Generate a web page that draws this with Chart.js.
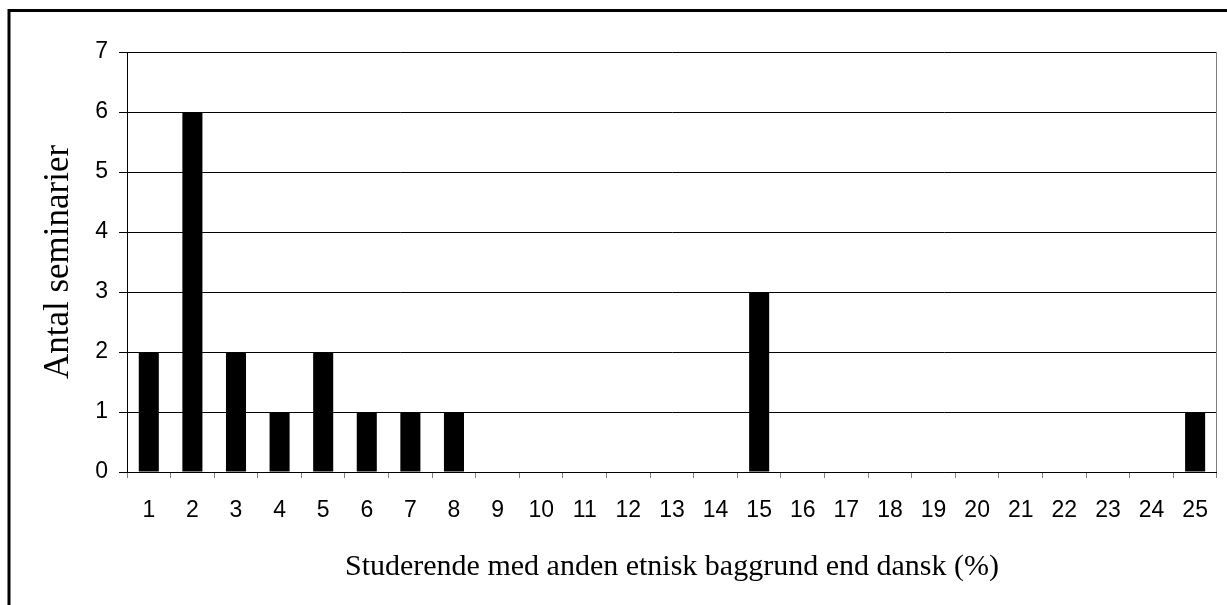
<!DOCTYPE html>
<html>
<head>
<meta charset="utf-8">
<script src="https://cdn.jsdelivr.net/npm/chart.js@4"></script>
<style>
  body { margin: 0; background: #fff; }
</style>
</head>
<body>
<canvas id="grafico" width="1227" height="605"></canvas>
<script>
// Kategorier og værdier
const kategorier = ['1','2','3','4','5','6','7','8','9','10','11','12','13','14','15','16','17','18','19','20','21','22','23','24','25'];
const antal = [2, 6, 2, 1, 2, 1, 1, 1, 0, 0, 0, 0, 0, 0, 3, 0, 0, 0, 0, 0, 0, 0, 0, 0, 1];
const yTicks = [0, 1, 2, 3, 4, 5, 6, 7];

// ramme rundt om hele figuren + højre kant af plotområdet
const ramme = {
    id: 'ramme',
    beforeDraw(chart) {
        const ctx = chart.ctx;
        ctx.save();
        ctx.fillStyle = '#fff';
        ctx.fillRect(0, 0, chart.width, chart.height);
        ctx.strokeStyle = '#000';
        ctx.lineWidth = 3;
        ctx.strokeRect(9, 10.5, 1400, 800);
        ctx.restore();
    },
    afterDraw(chart) {
        const a = chart.chartArea;
        const ctx = chart.ctx;
        ctx.save();
        ctx.strokeStyle = '#808080';
        ctx.lineWidth = 1;
        ctx.beginPath();
        ctx.moveTo(Math.round(a.right) - 0.5, a.top);
        ctx.lineTo(Math.round(a.right) - 0.5, a.bottom);
        ctx.stroke();
        ctx.restore();
    }
};

const ctx = document.getElementById('grafico').getContext('2d');

const grafico = new Chart(ctx, {
    type: 'bar',
    data: {
        labels: kategorier,
        datasets: [
            {
                label: 'Antal seminarier',
                data: antal,
                backgroundColor: '#000',
                borderWidth: 0,
                barPercentage: 0.46,
                categoryPercentage: 1
            }
        ]
    },
    options: {
        responsive: false,
        animation: false,
        layout: { padding: { left: 0, right: 4, top: 52, bottom: 0 } },
        plugins: {
            legend: { display: false },
            tooltip: { enabled: false }
        },
        scales: {
            x: {
                offset: true,
                afterFit: (s) => { s.height = 133; },
                grid: {
                    offset: true,
                    drawOnChartArea: false,
                    tickLength: 6,
                    tickColor: '#808080'
                },
                border: { display: true, color: '#000', width: 1 },
                ticks: {
                    color: '#000',
                    padding: 19,
                    maxRotation: 0,
                    autoSkip: false,
                    font: { family: '"Liberation Sans", Arial, sans-serif', size: 23 }
                },
                title: {
                    display: true,
                    text: 'Studerende med anden etnisk baggrund end dansk (%)',
                    color: '#000',
                    padding: { top: 0, bottom: 20 },
                    font: { family: '"Liberation Serif", "Times New Roman", serif', size: 30 }
                }
            },
            y: {
                min: 0,
                max: 7,
                afterFit: (s) => { s.width = 127; },
                afterBuildTicks: (s) => { s.ticks = yTicks.map(v => ({ value: v })); },
                grid: {
                    color: '#000',
                    lineWidth: 1,
                    tickLength: 8,
                    tickColor: '#000'
                },
                border: { display: true, color: '#000', width: 1 },
                ticks: {
                    color: '#000',
                    padding: 11,
                    font: { family: '"Liberation Sans", Arial, sans-serif', size: 23 }
                },
                title: {
                    display: true,
                    text: 'Antal seminarier',
                    color: '#000',
                    padding: { top: 38, bottom: 0 },
                    font: { family: '"Liberation Serif", "Times New Roman", serif', size: 35 }
                }
            }
        }
    },
    plugins: [ramme]
});
</script>
</body>
</html>
